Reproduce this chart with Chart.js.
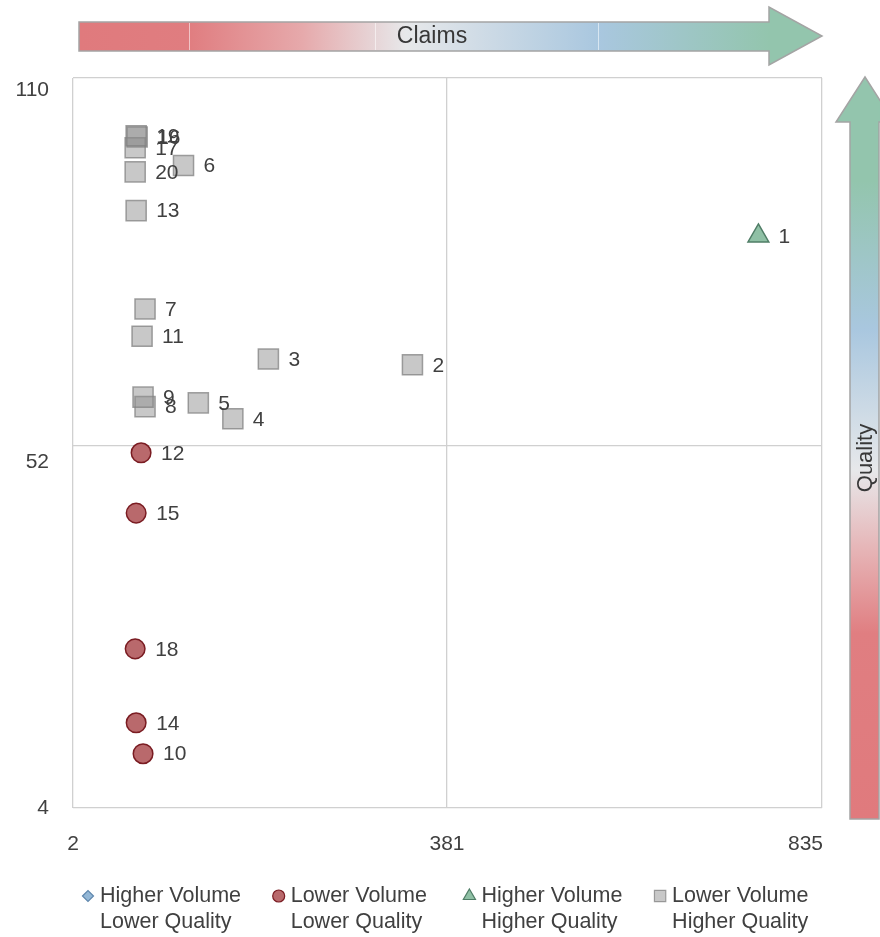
<!DOCTYPE html>
<html>
<head>
<meta charset="utf-8">
<script src="https://cdn.jsdelivr.net/npm/chart.js@4.4.1/dist/chart.umd.min.js"></script>
<style>
  html, body { margin: 0; padding: 0; background: #ffffff; }
  .chart-container { position: relative; width: 880px; height: 937px; }
</style>
</head>
<body>
<div class="chart-container"><canvas id="quadrant-chart"></canvas></div>
<script>
// axis ticks (each axis is split in two halves at the middle tick)
const xTicks = [2, 381, 835];
const yTicks = [4, 52, 110];

const seriesNames = [
  ['Higher Volume', 'Lower Quality'],
  ['Lower Volume', 'Lower Quality'],
  ['Higher Volume', 'Higher Quality'],
  ['Lower Volume', 'Higher Quality']
];

// Higher Volume / Lower Quality (empty)
const hvlqIds = [];
const hvlqClaims = [];
const hvlqQuality = [];

// Lower Volume / Lower Quality
const lvlqIds = ['12', '15', '18', '14', '10'];
const lvlqClaims = [71, 66, 65, 66, 73];
const lvlqQuality = [51.1, 43.1, 25.1, 15.3, 11.2];

// Higher Volume / Higher Quality
const hvhqIds = ['1'];
const hvhqClaims = [758];
const hvhqQuality = [85.1];

// Lower Volume / Higher Quality
const lvhqIds = ['2', '3', '4', '5', '6', '7', '8', '9', '11', '13', '16', '17', '19', '20'];
const lvhqClaims = [346, 200, 164, 129, 114, 75, 75, 73, 72, 66, 67, 65, 66, 65];
const lvhqQuality = [64.8, 65.7, 56.3, 58.8, 96.2, 73.6, 58.2, 59.7, 69.3, 89.1, 100.7, 99.0, 100.9, 95.2];

const FONT = "'Liberation Sans', Arial, sans-serif";
const TEXT = '#404040';

const quadrantTicks = { x: xTicks, y: yTicks };
// where the middle tick sits along each axis (fraction of its length)
const quadrantSplit = { x: 0.4993, y: 0.4959 };

// linear scale where each half of the axis has its own range
class QuadrantScale extends Chart.LinearScale {
  getPixelForValue(value) {
    const [lo, mid, hi] = quadrantTicks[this.axis];
    const s = quadrantSplit[this.axis];
    const d = value <= mid ? s * (value - lo) / (mid - lo) : s + (1 - s) * (value - mid) / (hi - mid);
    return this.getPixelForDecimal(d);
  }
  getValueForPixel(pixel) {
    const [lo, mid, hi] = quadrantTicks[this.axis];
    const s = quadrantSplit[this.axis];
    const d = this.getDecimalForPixel(pixel);
    return d <= s ? lo + d / s * (mid - lo) : mid + (d - s) / (1 - s) * (hi - mid);
  }
}
QuadrantScale.id = 'quadrant';
QuadrantScale.defaults = Chart.LinearScale.defaults;
Chart.register(QuadrantScale);

const toPoints = (xs, ys) => xs.map((x, i) => ({ x: x, y: ys[i] }));

const datasets = [
  { label: seriesNames[0].join(' '), ids: hvlqIds, data: toPoints(hvlqClaims, hvlqQuality),
    pointStyle: 'rectRot', backgroundColor: '#93b7d6', borderColor: '#5f87ad', pointRadius: 12, borderWidth: 1.5, legendRadius: 5.5 },
  { label: seriesNames[1].join(' '), ids: lvlqIds, data: toPoints(lvlqClaims, lvlqQuality),
    pointStyle: 'circle', backgroundColor: '#b9696c', borderColor: '#7a1c22', pointRadius: 9.8, borderWidth: 1.5, legendRadius: 6 },
  { label: seriesNames[2].join(' '), ids: hvhqIds, data: toPoints(hvhqClaims, hvhqQuality),
    pointStyle: 'triangle', backgroundColor: '#8fc0a5', borderColor: '#4f7d66', pointRadius: 12, borderWidth: 1.5, legendRadius: 7 },
  { label: seriesNames[3].join(' '), ids: lvhqIds, data: toPoints(lvhqClaims, lvhqQuality),
    pointStyle: 'rect', backgroundColor: 'rgba(140, 140, 140, 0.48)', borderColor: 'rgba(130, 130, 130, 0.75)', pointRadius: 14.2, borderWidth: 1.5, legendRadius: 8 }
];

// gradient arrows for Claims (top) and Quality (right)
const arrowsPlugin = {
  id: 'arrows',
  beforeDraw(chart) {
    const ctx = chart.ctx;
    ctx.save();
    // Claims arrow
    let g = ctx.createLinearGradient(79, 0, 822, 0);
    g.addColorStop(0, '#e07a7d');
    g.addColorStop(0.148, '#e07d80');
    g.addColorStop(0.3, '#e6a9ab');
    g.addColorStop(0.44, '#e7e8ea');
    g.addColorStop(0.7, '#a9c7df');
    g.addColorStop(0.93, '#93c5ad');
    g.addColorStop(1, '#93c5ad');
    ctx.beginPath();
    ctx.moveTo(79, 22); ctx.lineTo(769, 22); ctx.lineTo(769, 7); ctx.lineTo(822, 36);
    ctx.lineTo(769, 65); ctx.lineTo(769, 51); ctx.lineTo(79, 51); ctx.closePath();
    ctx.fillStyle = g; ctx.fill();
    ctx.strokeStyle = '#a4a4a4'; ctx.lineWidth = 1.5; ctx.stroke();
    ctx.strokeStyle = 'rgba(255,255,255,0.55)'; ctx.lineWidth = 1;
    [189.5, 375.5, 598.5].forEach(x => { ctx.beginPath(); ctx.moveTo(x, 23); ctx.lineTo(x, 50); ctx.stroke(); });
    ctx.fillStyle = '#383838';
    ctx.font = '23px ' + FONT;
    ctx.textAlign = 'center'; ctx.textBaseline = 'middle';
    ctx.fillText('Claims', 432, 37);

    // Quality arrow
    g = ctx.createLinearGradient(0, 819, 0, 77);
    g.addColorStop(0, '#e07a7d');
    g.addColorStop(0.25, '#e07e81');
    g.addColorStop(0.36, '#e6b3b5');
    g.addColorStop(0.47, '#e7e8ea');
    g.addColorStop(0.66, '#a9c7df');
    g.addColorStop(0.86, '#93c5ad');
    g.addColorStop(1, '#93c5ad');
    ctx.beginPath();
    ctx.moveTo(850, 819); ctx.lineTo(850, 122); ctx.lineTo(836, 122); ctx.lineTo(865, 77);
    ctx.lineTo(894, 122); ctx.lineTo(879, 122); ctx.lineTo(879, 819); ctx.closePath();
    ctx.fillStyle = g; ctx.fill();
    ctx.strokeStyle = '#a4a4a4'; ctx.lineWidth = 1.5; ctx.stroke();
    ctx.translate(866, 458);
    ctx.rotate(-Math.PI / 2);
    ctx.fillStyle = '#383838';
    ctx.font = '22px ' + FONT;
    ctx.fillText('Quality', 0, 0);
    ctx.restore();
  }
};

// number next to every marker
const pointLabelsPlugin = {
  id: 'pointLabels',
  afterDatasetsDraw(chart) {
    const ctx = chart.ctx;
    ctx.save();
    ctx.font = '21px ' + FONT;
    ctx.fillStyle = TEXT;
    ctx.textAlign = 'left';
    ctx.textBaseline = 'middle';
    chart.data.datasets.forEach((ds, i) => {
      chart.getDatasetMeta(i).data.forEach((el, j) => {
        ctx.fillText(ds.ids[j], el.x + 20, el.y + 1);
      });
    });
    ctx.restore();
  }
};

// tick numbers and two-line legend
const axisLegendPlugin = {
  id: 'axisLegend',
  afterDraw(chart) {
    const ctx = chart.ctx;
    const xs = chart.scales.x, ys = chart.scales.y;
    ctx.save();
    ctx.font = '21px ' + FONT;
    ctx.fillStyle = TEXT;
    ctx.textBaseline = 'middle';
    const yNudge = [0, 16, 12];
    yTicks.forEach((v, i) => {
      ctx.textAlign = 'right';
      ctx.fillText(String(v), 49, ys.getPixelForValue(v) + yNudge[i]);
    });
    xTicks.forEach((v, i) => {
      ctx.textAlign = i === xTicks.length - 1 ? 'right' : 'center';
      ctx.fillText(String(v), xs.getPixelForValue(v) + (i === xTicks.length - 1 ? 1 : 0), 844);
    });

    ctx.font = '21.5px ' + FONT;
    chart.data.datasets.forEach((ds, i) => {
      const mx = 88 + i * 190.7, my = 896;
      ctx.fillStyle = ds.backgroundColor;
      ctx.strokeStyle = ds.borderColor;
      ctx.lineWidth = 1.2;
      Chart.helpers.drawPoint(ctx, { pointStyle: ds.pointStyle, radius: ds.legendRadius, rotation: 0, borderWidth: 1.2 }, mx, my);
      ctx.fillStyle = TEXT;
      ctx.textAlign = 'left';
      seriesNames[i].forEach((t, j) => ctx.fillText(t, mx + 12, my + j * 26));
    });
    ctx.restore();
  }
};

const axisOptions = (ticks) => ({
  type: 'quadrant',
  min: ticks[0],
  max: ticks[ticks.length - 1],
  afterBuildTicks: scale => { scale.ticks = ticks.map(v => ({ value: v })); },
  ticks: { display: false },
  grid: { color: '#d0d0d0', lineWidth: 1.3, drawTicks: false },
  border: { display: false }
});

new Chart(document.getElementById('quadrant-chart').getContext('2d'), {
  type: 'scatter',
  data: { datasets: datasets },
  options: {
    responsive: true,
    maintainAspectRatio: false,
    animation: false,
    layout: { autoPadding: false, padding: { left: 73, right: 58, top: 78, bottom: 129 } },
    scales: { x: axisOptions(xTicks), y: axisOptions(yTicks) },
    plugins: { legend: { display: false }, tooltip: { enabled: false } }
  },
  plugins: [arrowsPlugin, pointLabelsPlugin, axisLegendPlugin]
});
</script>
</body>
</html>
